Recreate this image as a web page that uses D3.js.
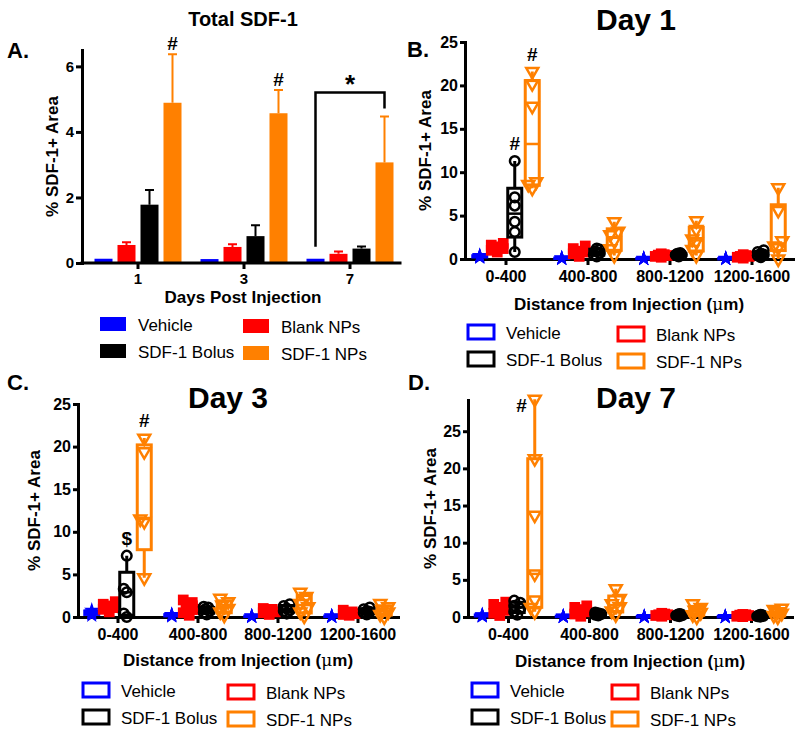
<!DOCTYPE html>
<html>
<head>
<meta charset="utf-8">
<script src="https://cdn.jsdelivr.net/npm/d3@7"></script>
<style>
  body { margin: 0; background: #fff; }
  svg { display: block; }
</style>
</head>
<body>
<svg id="fig" width="800" height="736"></svg>
<script>
const days = ['1', '3', '7'];
const treatments = ['Vehicle', 'Blank NPs', 'SDF-1 Bolus', 'SDF-1 NPs'];
const distances = ['0-400', '400-800', '800-1200', '1200-1600'];

// Panel A: total SDF-1, mean and SEM per day
const vehicleMean = [0.13, 0.12, 0.13];
const vehicleSem = [0, 0, 0];
const blankMean = [0.55, 0.49, 0.28];
const blankSem = [0.08, 0.08, 0.07];
const bolusMean = [1.78, 0.82, 0.44];
const bolusSem = [0.45, 0.33, 0.06];
const npMean = [4.89, 4.57, 3.07];
const npSem = [1.48, 0.71, 1.40];

// Panels B-D: each point per distance bin
const day1Vehicle = [[0.2, 0.3, 0.4, 0.25, 0.35], [0.05, 0.1, 0.12, 0.08, 0.06], [0.03, 0.05, 0.08, 0.04, 0.06], [0.03, 0.05, 0.07, 0.04, 0.06]];
const day1Blank = [[0.8, 1.0, 1.2, 1.4, 1.6, 1.8], [0.3, 0.6, 0.9, 1.2, 1.5, 0.8], [0.2, 0.3, 0.4, 0.5, 0.6, 0.45], [0.1, 0.2, 0.3, 0.4, 0.5, 0.3]];
const day1Bolus = [[0.8, 3.1, 4.3, 6.15, 7.1, 11.3], [0.3, 0.5, 0.7, 0.9, 1.1, 1.2], [0.3, 0.45, 0.55, 0.6, 0.7, 0.5], [0.2, 0.4, 0.6, 0.8, 1.0, 0.5]];
const day1NPs = [[8.15, 8.6, 8.9, 17.6, 20.2, 21.6], [0.4, 1.2, 2.1, 2.8, 3.2, 4.3], [0.4, 1.1, 2.0, 2.3, 3.4, 4.4], [0.0, 1.3, 1.5, 2.1, 5.6, 8.2]];

const day3Vehicle = [[0.2, 0.4, 0.5, 0.6, 0.8], [0.1, 0.2, 0.3, 0.25, 0.15], [0.05, 0.1, 0.08, 0.12, 0.06], [0.05, 0.1, 0.08, 0.12, 0.06]];
const day3Blank = [[0.6, 0.9, 1.1, 1.3, 1.5, 1.8], [0.2, 0.5, 0.9, 1.3, 1.7, 2.0], [0.3, 0.5, 0.7, 0.9, 1.0, 0.6], [0.2, 0.3, 0.4, 0.6, 0.8, 0.5]];
const day3Bolus = [[0.0, 0.4, 2.9, 3.3, 7.2], [0.3, 0.5, 0.7, 0.9, 1.1, 1.2], [0.4, 0.7, 1.0, 1.3, 1.5, 0.8], [0.3, 0.5, 0.7, 0.9, 1.1, 0.6]];
const day3NPs = [[4.6, 11.2, 11.5, 19.4, 21.0], [0.2, 0.6, 1.0, 1.4, 1.8, 2.2], [0.1, 0.6, 1.2, 1.6, 2.4, 2.9], [0.0, 0.3, 0.6, 0.9, 1.2, 1.6]];

const day7Vehicle = [[0.1, 0.2, 0.3, 0.25, 0.15], [0.05, 0.1, 0.12, 0.08, 0.06], [0.03, 0.05, 0.08, 0.04, 0.06], [0.03, 0.05, 0.07, 0.04, 0.06]];
const day7Blank = [[0.2, 0.5, 0.9, 1.3, 1.7, 2.0], [0.1, 0.4, 0.7, 1.0, 1.3, 1.5], [0.1, 0.2, 0.3, 0.4, 0.5, 0.3], [0.05, 0.1, 0.2, 0.3, 0.35, 0.25]];
const day7Bolus = [[0.3, 0.7, 1.1, 1.5, 1.9, 2.2], [0.2, 0.3, 0.4, 0.5, 0.6, 0.4], [0.1, 0.2, 0.3, 0.4, 0.35, 0.25], [0.05, 0.1, 0.2, 0.3, 0.25, 0.15]];
const day7NPs = [[0.7, 1.3, 2.3, 5.8, 13.7, 21.3, 29.3], [0.3, 0.8, 1.4, 1.8, 2.5, 3.8], [0.0, 0.3, 0.6, 0.9, 1.3, 1.8], [0.0, 0.2, 0.5, 0.7, 1.0, 1.2]];

// significance marks
const day1Marks = [{ distance: '0-400', treatment: 'SDF-1 Bolus', text: '#' }, { distance: '0-400', treatment: 'SDF-1 NPs', text: '#' }];
const day3Marks = [{ distance: '0-400', treatment: 'SDF-1 Bolus', text: '$' }, { distance: '0-400', treatment: 'SDF-1 NPs', text: '#' }];
const day7Marks = [{ distance: '0-400', treatment: 'SDF-1 NPs', text: '#', side: 'left' }];

const colors = ['#0000ff', '#ff0000', '#000000', '#ff8000'];
const FONT = "'Liberation Sans', Arial, Helvetica, sans-serif";

const svg = d3.select('#fig').attr('font-family', FONT);

function styleAxis(sel, size) {
  sel.select('.domain').attr('stroke-width', 3).attr('stroke-linecap', 'square');
  sel.selectAll('.tick line').attr('stroke-width', 3);
  sel.selectAll('.tick text')
    .attr('font-size', size)
    .attr('font-weight', 'bold')
    .attr('font-family', FONT)
    .attr('fill', '#000');
}

function addText(g, x, y, text, size, opts = {}) {
  return g.append('text')
    .attr('x', x)
    .attr('y', y)
    .attr('font-size', size)
    .attr('font-weight', opts.weight || 'bold')
    .attr('text-anchor', opts.anchor || 'start')
    .text(text);
}

function yLabel(g, x, y) {
  g.append('text')
    .attr('transform', `translate(${x},${y}) rotate(-90)`)
    .attr('text-anchor', 'middle')
    .attr('font-size', 17)
    .attr('font-weight', 'bold')
    .text('% SDF-1+ Area');
}

function drawLegend(g, x, y, colGap, filled) {
  treatments.forEach((t, i) => {
    const col = i % 2;
    const row = Math.floor(i / 2);
    const lx = x + col * colGap;
    const ly = y + row * 27 + col * 2;
    g.append('rect')
      .attr('x', lx)
      .attr('y', ly)
      .attr('width', 26)
      .attr('height', 14)
      .attr('fill', filled ? colors[i] : '#fff')
      .attr('stroke', colors[i])
      .attr('stroke-width', filled ? 0 : 3);
    addText(g, lx + 38, ly + 14, t, 17, { weight: 'normal' });
  });
}

// ---------- Panel A ----------
const gA = svg.append('g');
const xA = d3.scaleBand().domain(days).range([85, 403]);
const subA = d3.scaleBand().domain(treatments).range([-43.5, 43.5]).paddingInner(0.217);
const yA = d3.scaleLinear().domain([0, 6.5]).range([263, 50]);

const totals = [
  { mean: vehicleMean, sem: vehicleSem },
  { mean: blankMean, sem: blankSem },
  { mean: bolusMean, sem: bolusSem },
  { mean: npMean, sem: npSem }
];

const barRows = [];
days.forEach((d, j) => {
  treatments.forEach((t, i) => {
    barRows.push({ day: d, t, i, mean: totals[i].mean[j], sem: totals[i].sem[j] });
  });
});
const barX = r => xA(r.day) + xA.bandwidth() / 2 + subA(r.t);

gA.selectAll('rect.bar')
  .data(barRows)
  .join('rect')
    .attr('class', 'bar')
    .attr('x', barX)
    .attr('y', r => yA(r.mean))
    .attr('width', subA.bandwidth())
    .attr('height', r => yA(0) - yA(r.mean))
    .attr('fill', r => colors[r.i]);

const errRows = barRows.filter(r => r.sem > 0);
gA.selectAll('path.err')
  .data(errRows)
  .join('path')
    .attr('class', 'err')
    .attr('fill', 'none')
    .attr('stroke', r => colors[r.i])
    .attr('stroke-width', 2)
    .attr('d', r => {
      const cx = barX(r) + subA.bandwidth() / 2;
      const top = yA(r.mean + r.sem);
      return `M${cx},${yA(r.mean)}V${top}M${cx - 4.5},${top}H${cx + 4.5}`;
    });

const axA = gA.append('g')
  .attr('transform', `translate(0,${yA(0)})`)
  .call(d3.axisBottom(xA).tickSize(6).tickSizeOuter(0).tickPadding(4));
axA.select('.domain').attr('d', `M82,0H400`);
styleAxis(axA, 15);
const ayA = gA.append('g')
  .attr('transform', 'translate(82,0)')
  .call(d3.axisLeft(yA).tickValues([0, 2, 4, 6]).tickFormat(d3.format('d')).tickSize(6).tickSizeOuter(0).tickPadding(2));
styleAxis(ayA, 15);

// significance on panel A
const topOf = r => yA(r.mean + r.sem);
['1', '3'].forEach(d => {
  const r = barRows.find(b => b.day === d && b.t === 'SDF-1 NPs');
  addText(gA, barX(r) + subA.bandwidth() / 2, topOf(r) - 4, '#', 19, { anchor: 'middle' });
});
{
  const left = barRows.find(b => b.day === '7' && b.t === 'Vehicle');
  const right = barRows.find(b => b.day === '7' && b.t === 'SDF-1 NPs');
  const lx = barX(left) + subA.bandwidth() / 2;
  const rx = barX(right) + subA.bandwidth() / 2;
  const topY = topOf(right) - 24;
  gA.append('path')
    .attr('fill', 'none')
    .attr('stroke', '#000')
    .attr('stroke-width', 2.5)
    .attr('d', `M${lx},${yA(left.mean) - 12}V${topY}H${rx}V${topOf(right) - 8}`);
  addText(gA, (lx + rx) / 2, topY, '*', 26, { anchor: 'middle' });
}

addText(gA, 243, 26, 'Total SDF-1', 20, { anchor: 'middle' });
addText(gA, 7, 58, 'A.', 22);
yLabel(gA, 58, (yA(0) + yA(6.5)) / 2);
addText(gA, 243, 303, 'Days Post Injection', 17, { anchor: 'middle' });
drawLegend(gA, 100, 317, 143, true);

// ---------- Panels B-D ----------
function prismQuantile(sorted, p) {
  const n = sorted.length;
  const pos = Math.min(Math.max((n + 1) * p, 1), n);
  const lo = Math.floor(pos);
  const hi = Math.ceil(pos);
  return sorted[lo - 1] + (pos - lo) * (sorted[hi - 1] - sorted[lo - 1]);
}

// horizontal spread of the scatter points, per treatment
const spread = [0, 6, 3, 4];

function dodge(values, y, s) {
  const candidates = [0, -s / 2, s / 2, -s, s];
  const placed = [];
  values.slice().sort((a, b) => a - b).forEach(v => {
    const py = y(v);
    let best = 0;
    let bestScore = -1;
    for (const dx of candidates) {
      const score = placed.length ? d3.min(placed, q => Math.hypot(q.dx - dx, q.py - py)) : Infinity;
      if (score >= 8) { best = dx; break; }
      if (score > bestScore) { bestScore = score; best = dx; }
    }
    placed.push({ v, py, dx: best });
  });
  return placed;
}

const symbols = [d3.symbolStar, d3.symbolSquare, d3.symbolCircle, d3.symbolTriangle];
const symbolSizes = [75, 115, 72, 62];

const boxPanels = [
  {
    letter: 'B.', title: 'Day 1', data: [day1Vehicle, day1Blank, day1Bolus, day1NPs], marks: day1Marks,
    xRange: [465, 793], yRange: [259, 42], yMax: 25, letterPos: [407, 57], titlePos: [636, 30],
    labelX: 431, xTitleY: 310, legend: [468, 325, 150]
  },
  {
    letter: 'C.', title: 'Day 3', data: [day3Vehicle, day3Blank, day3Bolus, day3NPs], marks: day3Marks,
    xRange: [78, 398], yRange: [617, 404], yMax: 25, letterPos: [7, 390], titlePos: [228, 408],
    labelX: 40, xTitleY: 666, legend: [83, 683, 145]
  },
  {
    letter: 'D.', title: 'Day 7', data: [day7Vehicle, day7Blank, day7Bolus, day7NPs], marks: day7Marks,
    xRange: [468, 792], yRange: [617, 400], yMax: 29.2, letterPos: [408, 390], titlePos: [636, 408],
    labelX: 436, xTitleY: 667, legend: [472, 683, 140]
  }
];

boxPanels.forEach(p => {
  const g = svg.append('g');
  const x = d3.scaleBand().domain(distances).range(p.xRange);
  const sub = d3.scaleBand().domain(treatments).range([-35, 35]);
  const y = d3.scaleLinear().domain([0, p.yMax]).range(p.yRange);
  const cx = (d, t) => x(d) + x.bandwidth() / 2 + sub(t) + sub.bandwidth() / 2;

  const ax = g.append('g')
    .attr('transform', `translate(0,${y(0)})`)
    .call(d3.axisBottom(x).tickSize(6).tickSizeOuter(0).tickPadding(6));
  styleAxis(ax, 16);
  const ay = g.append('g')
    .attr('transform', `translate(${p.xRange[0]},0)`)
    .call(d3.axisLeft(y).tickValues([0, 5, 10, 15, 20, 25]).tickSize(5).tickSizeOuter(0).tickPadding(2));
  styleAxis(ay, 16);

  distances.forEach((d, k) => {
    treatments.forEach((t, i) => {
      const vals = p.data[i][k].slice().sort((a, b) => a - b);
      const c = cx(d, t);
      const q1 = prismQuantile(vals, 0.25);
      const med = prismQuantile(vals, 0.5);
      const q3 = prismQuantile(vals, 0.75);
      const box = g.append('g')
        .attr('fill', 'none')
        .attr('stroke', colors[i])
        .attr('stroke-width', 3);
      box.append('path')
        .attr('d', `M${c},${y(vals[vals.length - 1])}V${y(q3)}M${c},${y(q1)}V${y(vals[0])}`);
      box.append('rect')
        .attr('x', c - 7)
        .attr('y', y(q3))
        .attr('width', 14)
        .attr('height', Math.max(y(q1) - y(q3), 0.5));
      box.append('path')
        .attr('stroke-width', 2.5)
        .attr('d', `M${c - 7},${y(med)}H${c + 7}`);

      const filled = i < 2;
      g.append('g')
        .selectAll('path')
        .data(dodge(vals, y, spread[i]))
        .join('path')
          .attr('transform', pt => `translate(${c + pt.dx},${pt.py})${i === 3 ? ' rotate(180)' : ''}`)
          .attr('d', d3.symbol(symbols[i], symbolSizes[i]))
          .attr('fill', filled ? colors[i] : 'none')
          .attr('stroke', colors[i])
          .attr('stroke-width', filled ? 0 : 2.5);
    });
  });

  p.marks.forEach(m => {
    const i = treatments.indexOf(m.treatment);
    const k = distances.indexOf(m.distance);
    const maxY = y(d3.max(p.data[i][k]));
    const c = cx(m.distance, m.treatment);
    if (m.side === 'left') {
      addText(g, c - 8, maxY + 13, m.text, 19, { anchor: 'end' });
    } else {
      addText(g, c, maxY - 11, m.text, 19, { anchor: 'middle' });
    }
  });

  addText(g, p.letterPos[0], p.letterPos[1], p.letter, 22);
  addText(g, p.titlePos[0], p.titlePos[1], p.title, 30, { anchor: 'middle' });
  yLabel(g, p.labelX, (p.yRange[0] + p.yRange[1]) / 2);
  const xt = addText(g, (p.xRange[0] + p.xRange[1]) / 2, p.xTitleY, 'Distance from Injection (', 17, { anchor: 'middle' });
  xt.append('tspan').attr('font-family', "'DejaVu Serif', 'Liberation Serif', serif").attr('font-weight', 'normal').text('μ');
  xt.append('tspan').text('m)');
  drawLegend(g, p.legend[0], p.legend[1], p.legend[2], false);
});
</script>
</body>
</html>
